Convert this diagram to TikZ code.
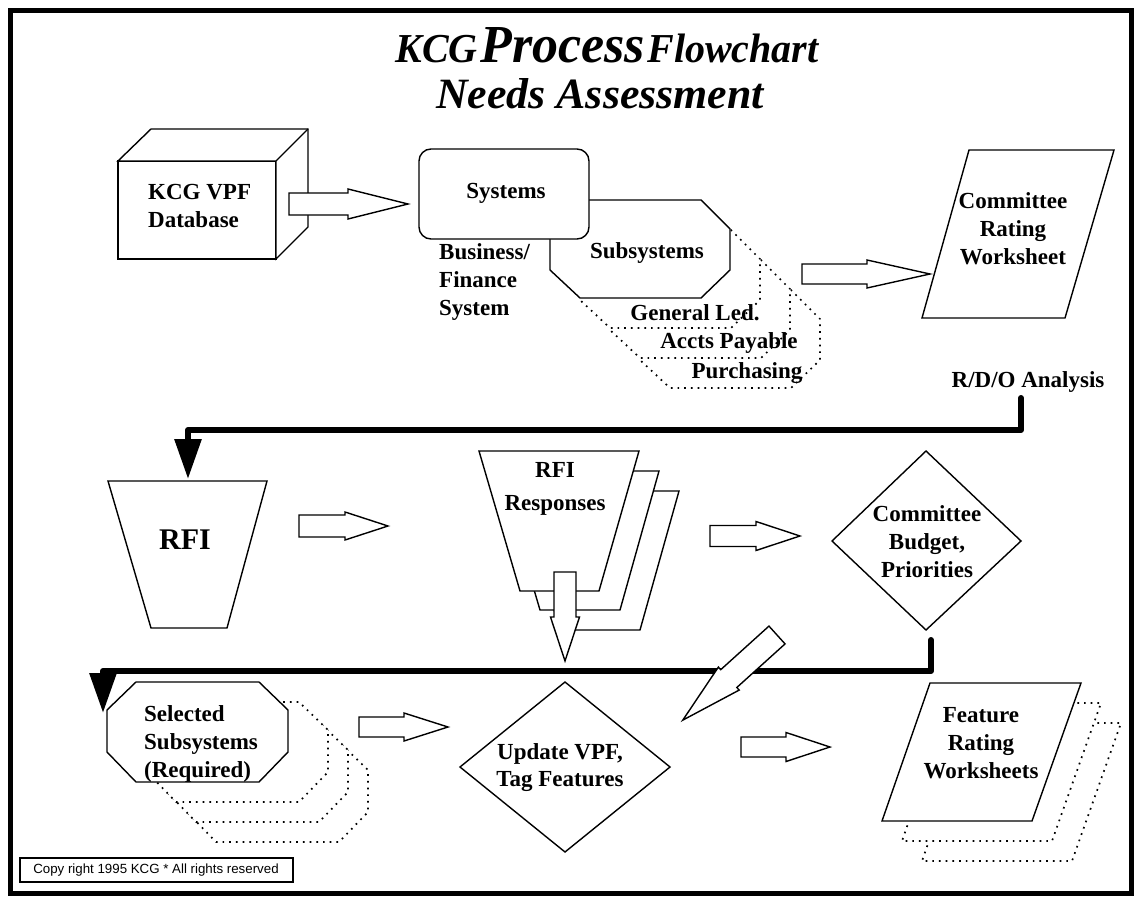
\documentclass[tikz,border=0pt]{standalone}
\usepackage{fontspec}
\usepackage{graphicx}
\setmainfont{Liberation Serif}
\newfontfamily\arialf{Liberation Sans}
\usetikzlibrary{arrows.meta}
\tikzset{
  shp/.style={draw, line width=1.4pt, fill=white, line join=miter},
  dotshp/.style={draw, line width=1.7pt, dash pattern=on 1.7pt off 5pt, fill=white},
  lbl/.style={font=\fontsize{23}{28}\selectfont\bfseries, align=center, inner sep=0pt},
  lbll/.style={font=\fontsize{23}{28}\selectfont\bfseries, align=left, inner sep=0pt},
  conn/.style={line width=6pt, line cap=round, line join=round},
  arrowbox/.style={draw, line width=1.4pt, fill=white, line join=miter},
  pics/barrow/.style args={#1/#2/#3/#4}{code={
    \draw[arrowbox] (0,-#2) -- (#1,-#2) -- (#1,-#3) -- (#4,0) -- (#1,#3) -- (#1,#2) -- (0,#2) -- cycle;
  }}
}
\begin{document}
\begin{tikzpicture}[x=1pt,y=-1pt]
\useasboundingbox (0,0) rectangle (1134,896);
\fill[white] (0,0) rectangle (1134,896);
% frame
\draw[line width=5pt] (10,11) rectangle (1131,893);
% title
\node[anchor=base, inner sep=0pt] (title1) at (607,63)
  {\resizebox{423pt}{35pt}{\bfseries\itshape {\fontsize{40}{40}\selectfont KCG} {\fontsize{52}{52}\selectfont Process} {\fontsize{40}{40}\selectfont Flowchart}}};
\node[anchor=base, inner sep=0pt] (title2) at (600,109)
  {\resizebox{328pt}{30pt}{\bfseries\itshape\fontsize{40}{40}\selectfont Needs Assessment}};

% 3D box database
\draw[shp] (118,161) rectangle (276,259);
\draw[shp] (118,161) -- (151,129) -- (308,129) -- (308,227) -- (276,259) -- (276,161) -- cycle;
\draw[line width=1.4pt] (276,161) -- (308,129);
\node[lbll, anchor=west] (db) at (148,206) {KCG VPF\\Database};

\pic at (289,204) {barrow=59/11/15/119};

% subsystem dotted copies
\foreach \d in {90,60,30}{
  \draw[dotshp] (580+\d,200+\d) -- (701+\d,200+\d) -- (730+\d,229+\d) -- (730+\d,270+\d) -- (701+\d,298+\d) -- (580+\d,298+\d) -- (550+\d,270+\d) -- (550+\d,229+\d) -- cycle;
}
\node[lbl] (pur) at (747,373) {Purchasing};
\node[lbl] (ap) at (729,343) {Accts Payable};
\node[lbl] (gl) at (695,313) {General Led.};
% subsystems octagon
\draw[shp] (580,200) -- (701,200) -- (730,229) -- (730,270) -- (701,298) -- (580,298) -- (550,270) -- (550,229) -- cycle;
\node[lbl] (sub) at (647,253) {Subsystems};
% systems
\draw[shp, rounded corners=12pt] (419,149) rectangle (589,239);
\node[lbl] (sys) at (506,193) {Systems};
\node[lbll, anchor=west] (bfs) at (439,282) {Business/\\Finance\\System};

\pic at (802,274) {barrow=65/10/14/128};

% committee rating worksheet
\draw[shp] (969,150) -- (1114,150) -- (1065,318) -- (922,318) -- cycle;
\node[lbl] (crw) at (1013,229) {Committee\\Rating\\Worksheet};

\node[lbl] (rdo) at (1028,382) {R/D/O Analysis};
\coordinate (rdoS) at (1021,398);
\coordinate (rfiN) at (188,479);
\draw[conn, -{Triangle[length=40pt,width=26pt]}] (rdoS) |- (rfiN |- 0,430) -- (rfiN);

% RFI
\draw[shp] (108,481) -- (267,481) -- (227,628) -- (151,628) -- cycle;
\node[font=\fontsize{30}{30}\selectfont\bfseries, inner sep=0pt] (rfi) at (185,540) {RFI};

\pic at (299,526) {barrow=46/11/14/89};

% RFI responses
\draw[shp] (519,491) -- (679,491) -- (640,630) -- (560,630) -- cycle;
\draw[shp] (499,471) -- (659,471) -- (620,610) -- (540,610) -- cycle;
\draw[shp] (479,451) -- (639,451) -- (599,591) -- (520,591) -- cycle;
\node[lbl, font=\fontsize{23}{33}\selectfont\bfseries] (resp) at (555,489) {RFI\\Responses};
\pic[rotate=-90] at (565,572) {barrow=45/11/14.5/89};

\pic at (710,536) {barrow=46/10.5/14.5/90};

% committee budget diamond
\draw[shp] (926,451) -- (1021,541) -- (926,630) -- (832,541) -- cycle;
\node[lbl] (cbp) at (927,542) {Committee\\Budget,\\Priorities};

\coordinate (cbpS) at (931,640);
\coordinate (selN) at (103,713);
\draw[conn, -{Triangle[length=40pt,width=26pt]}] (cbpS) |- (selN |- 0,671) -- (selN);

% diagonal arrow
\pic[rotate=-137.9] at (777,635) {barrow=65/12/15.5/127};

% selected subsystems copies
\foreach \dx/\dy in {80/60,60/40,40/20}{
  \draw[dotshp] (136+\dx,682+\dy) -- (259+\dx,682+\dy) -- (288+\dx,710+\dy) -- (288+\dx,752+\dy) -- (259+\dx,782+\dy) -- (136+\dx,782+\dy) -- (107+\dx,752+\dy) -- (107+\dx,710+\dy) -- cycle;
}
\draw[shp] (136,682) -- (259,682) -- (288,710) -- (288,752) -- (259,782) -- (136,782) -- (107,752) -- (107,710) -- cycle;
\node[lbll, anchor=west] (sel) at (144,744) {Selected\\Subsystems\\(Required)};

\pic at (359,727) {barrow=45/10/14/89};

% update VPF diamond
\draw[shp] (565,682) -- (670,767) -- (565,852) -- (460,767) -- cycle;
\node[lbl, font=\fontsize{23}{27}\selectfont\bfseries] (upd) at (560,768) {Update VPF,\\Tag Features};

\pic at (741,747) {barrow=45/10/14.5/89};

% feature rating worksheets
\draw[dotshp] (970,723) -- (1121,723) -- (1072,861) -- (922,861) -- cycle;
\draw[dotshp] (950,703) -- (1101,703) -- (1052,841) -- (902,841) -- cycle;
\draw[shp] (930,683) -- (1081,683) -- (1032,821) -- (882,821) -- cycle;
\node[lbl] (frw) at (981,743) {Feature\\Rating\\Worksheets};

% copyright
\draw[line width=1.2pt, fill=white] (20,858) rectangle (293,882);
\node[font=\arialf\fontsize{13.3}{15}\selectfont, inner sep=0pt] (copy) at (156,870) {Copy right 1995 KCG * All rights reserved};
\end{tikzpicture}
\end{document}
